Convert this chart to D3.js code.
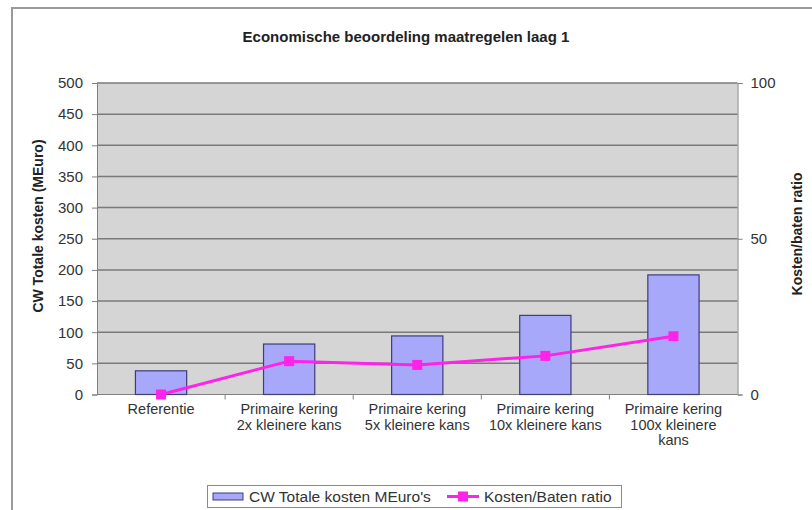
<!DOCTYPE html>
<html>
<head>
<meta charset="utf-8">
<script src="https://cdn.jsdelivr.net/npm/d3@7"></script>
<style>
  html, body { margin: 0; padding: 0; background: #fff; }
  svg { display: block; font-family: 'Liberation Sans', Arial, sans-serif; }
</style>
</head>
<body>
<svg id="chart" width="812" height="510"></svg>
<script>
const categories = ['Referentie', 'Primaire kering 2x', 'Primaire kering 5x', 'Primaire kering 10x', 'Primaire kering 100x']
const categoryLines = [
  ['Referentie'],
  ['Primaire kering', '2x kleinere kans'],
  ['Primaire kering', '5x kleinere kans'],
  ['Primaire kering', '10x kleinere kans'],
  ['Primaire kering', '100x kleinere', 'kans']
]
const kosten = [38, 81, 94, 127, 192]
const ratio = [0, 10.7, 9.5, 12.4, 18.7]
const leftTicks = [0, 50, 100, 150, 200, 250, 300, 350, 400, 450, 500]
const rightTicks = [0, 50, 100]

const svg = d3.select('#chart')

const plot = { left: 97, right: 737.5, top: 83, bottom: 394.5 }
const textColor = '#333'
const barFill = '#a8a8fb'
const barStroke = '#3d3d7a'
const lineColor = '#ff22e8'

// outer chart frame
svg.append('rect')
  .attr('x', 12).attr('y', 8)
  .attr('width', 820).attr('height', 520)
  .attr('fill', '#fff')
  .attr('stroke', '#9a9a9a')
  .attr('stroke-width', 2)

svg.append('text')
  .attr('x', 406).attr('y', 42)
  .attr('text-anchor', 'middle')
  .attr('font-size', '15px')
  .attr('font-weight', 'bold')
  .attr('fill', '#222')
  .text('Economische beoordeling maatregelen laag 1')

const x = d3.scaleBand().domain(categories).range([plot.left, plot.right]).paddingInner(0).paddingOuter(0)
const y = d3.scaleLinear().domain([0, 500]).range([plot.bottom, plot.top])
const y2 = d3.scaleLinear().domain([0, 100]).range([plot.bottom, plot.top])

svg.append('rect')
  .attr('x', plot.left).attr('y', plot.top)
  .attr('width', plot.right - plot.left).attr('height', plot.bottom - plot.top)
  .attr('fill', '#d5d5d5')

// gridlines
svg.append('g')
  .selectAll('line')
  .data(leftTicks.filter(d => d > 0))
  .join('line')
  .attr('x1', plot.left).attr('x2', plot.right)
  .attr('y1', d => y(d)).attr('y2', d => y(d))
  .attr('stroke', '#7a7a7a')
  .attr('stroke-width', 1.5)

// left axis
const leftAxis = svg.append('g')
  .attr('transform', `translate(${plot.left},0)`)
  .call(d3.axisLeft(y).tickValues(leftTicks).tickSize(5).tickPadding(9))
leftAxis.select('.domain').attr('stroke', '#808080')
leftAxis.selectAll('.tick line').attr('stroke', '#808080')
leftAxis.selectAll('text')
  .attr('fill', textColor)
  .attr('font-size', '15px')
  .attr('font-family', 'Liberation Sans, Arial, sans-serif')

// right axis
const rightAxis = svg.append('g')
  .attr('transform', `translate(${plot.right},0)`)
  .call(d3.axisRight(y2).tickValues(rightTicks).tickSize(5).tickPadding(8))
rightAxis.select('.domain').attr('stroke', '#808080')
rightAxis.selectAll('.tick line').attr('stroke', '#808080')
rightAxis.selectAll('text')
  .attr('fill', textColor)
  .attr('font-size', '15px')
  .attr('font-family', 'Liberation Sans, Arial, sans-serif')

// bottom axis: ticks between categories
svg.append('line')
  .attr('x1', plot.left).attr('x2', plot.right)
  .attr('y1', plot.bottom).attr('y2', plot.bottom)
  .attr('stroke', '#808080')
svg.append('g')
  .selectAll('line')
  .data(categories.slice(1))
  .join('line')
  .attr('x1', d => x(d)).attr('x2', d => x(d))
  .attr('y1', plot.bottom).attr('y2', plot.bottom + 5)
  .attr('stroke', '#808080')

const labels = svg.append('g')
  .selectAll('text')
  .data(categories)
  .join('text')
  .attr('x', d => x(d) + x.bandwidth() / 2)
  .attr('y', 414)
  .attr('text-anchor', 'middle')
  .attr('font-size', '14.5px')
  .attr('fill', textColor)
labels.each(function (d, i) {
  d3.select(this).selectAll('tspan')
    .data(categoryLines[i])
    .join('tspan')
    .attr('x', x(d) + x.bandwidth() / 2)
    .attr('dy', (t, j) => j === 0 ? 0 : 15.5)
    .text(t => t)
})

// axis titles
svg.append('text')
  .attr('transform', 'translate(43,226) rotate(-90)')
  .attr('text-anchor', 'middle')
  .attr('font-size', '14px')
  .attr('font-weight', 'bold')
  .attr('fill', '#222')
  .text('CW Totale kosten (MEuro)')

svg.append('text')
  .attr('transform', 'translate(802,234) rotate(-90)')
  .attr('text-anchor', 'middle')
  .attr('font-size', '14px')
  .attr('font-weight', 'bold')
  .attr('fill', '#222')
  .text('Kosten/baten ratio')

// bars (Excel default gap width 150%)
const barW = x.bandwidth() / 2.5
svg.append('g')
  .selectAll('rect')
  .data(categories)
  .join('rect')
  .attr('x', d => x(d) + (x.bandwidth() - barW) / 2)
  .attr('y', (d, i) => y(kosten[i]))
  .attr('width', barW)
  .attr('height', (d, i) => y(0) - y(kosten[i]))
  .attr('fill', barFill)
  .attr('stroke', barStroke)
  .attr('stroke-width', 1.2)

// ratio line
const lineData = categories.map((c, i) => ({ c, v: ratio[i] }))
svg.append('path')
  .datum(lineData)
  .attr('fill', 'none')
  .attr('stroke', lineColor)
  .attr('stroke-width', 3)
  .attr('d', d3.line().x(d => x(d.c) + x.bandwidth() / 2).y(d => y2(d.v)))
svg.append('g')
  .selectAll('rect')
  .data(lineData)
  .join('rect')
  .attr('x', d => x(d.c) + x.bandwidth() / 2 - 5)
  .attr('y', d => y2(d.v) - 5)
  .attr('width', 10).attr('height', 10)
  .attr('fill', lineColor)

// legend
const legend = svg.append('g')
legend.append('rect')
  .attr('x', 207.5).attr('y', 485.5)
  .attr('width', 414).attr('height', 22)
  .attr('fill', '#fff')
  .attr('stroke', '#8a8a8a')
legend.append('rect')
  .attr('x', 213).attr('y', 493)
  .attr('width', 30).attr('height', 7)
  .attr('fill', barFill)
  .attr('stroke', barStroke)
legend.append('text')
  .attr('x', 249).attr('y', 502)
  .attr('font-size', '15.5px')
  .attr('fill', textColor)
  .text("CW Totale kosten MEuro's")
legend.append('line')
  .attr('x1', 447).attr('x2', 479)
  .attr('y1', 496.5).attr('y2', 496.5)
  .attr('stroke', lineColor).attr('stroke-width', 3)
legend.append('rect')
  .attr('x', 458).attr('y', 491.5)
  .attr('width', 10).attr('height', 10)
  .attr('fill', lineColor)
legend.append('text')
  .attr('x', 484).attr('y', 502)
  .attr('font-size', '15.5px')
  .attr('fill', textColor)
  .text('Kosten/Baten ratio')
</script>
</body>
</html>
